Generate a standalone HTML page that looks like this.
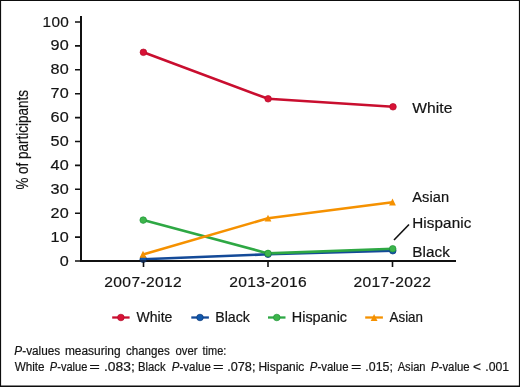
<!DOCTYPE html>
<html>
<head>
<meta charset="utf-8">
<title>Participants by race over time</title>
<style>
html,body{margin:0;padding:0;background:#fff;}
body{width:520px;height:387px;overflow:hidden;}
svg{display:block;}
text{font-family:"Liberation Sans",sans-serif;fill:#141414;stroke:#141414;stroke-width:0.2px;}
</style>
</head>
<body>
<svg width="520" height="387" viewBox="0 0 520 387">
<rect x="0" y="0" width="520" height="387" fill="#fff"/>
<!-- outer frame -->
<path fill="#0d0d0d" fill-rule="evenodd" d="M0,0 H520 V387 H0 Z M1.1,1 V385.55 H518.9 V1 Z"/>

<!-- data series -->
<g fill="none" stroke-width="2.6" stroke-linejoin="round" stroke-linecap="round">
  <polyline stroke="#144a98" points="143.2,259.3 268,254.3 392.8,250.7"/>
  <polyline stroke="#2ea844" points="143.2,220.1 268,253.4 392.7,248.8"/>
  <polyline stroke="#f59100" points="143,254.4 268,218.3 392.5,202.2"/>
  <polyline stroke="#c90e2f" points="143.4,52.3 268.1,98.8 393,106.8"/>
</g>
<circle cx="143.2" cy="259.3" r="3.3" fill="#1058ac" stroke="#0c3a7a" stroke-width="0.7"/>
<circle cx="268" cy="254.3" r="3.3" fill="#1058ac" stroke="#0c3a7a" stroke-width="0.7"/>
<circle cx="392.8" cy="250.7" r="3.3" fill="#1058ac" stroke="#0c3a7a" stroke-width="0.7"/>
<circle cx="143.2" cy="220.1" r="3.3" fill="#3db54b" stroke="#1f9639" stroke-width="0.7"/>
<circle cx="268" cy="253.4" r="3.3" fill="#3db54b" stroke="#1f9639" stroke-width="0.7"/>
<circle cx="392.7" cy="248.8" r="3.3" fill="#3db54b" stroke="#1f9639" stroke-width="0.7"/>
<path fill="#f59100" d="M143,250.8 l3.4,6.9 h-6.8z"/>
<path fill="#f59100" d="M268,214.7 l3.4,6.9 h-6.8z"/>
<path fill="#f59100" d="M392.5,198.6 l3.4,6.9 h-6.8z"/>
<circle cx="143.4" cy="52.3" r="3.3" fill="#d81236" stroke="#b40b2a" stroke-width="0.7"/>
<circle cx="268.1" cy="98.8" r="3.3" fill="#d81236" stroke="#b40b2a" stroke-width="0.7"/>
<circle cx="393" cy="106.8" r="3.3" fill="#d81236" stroke="#b40b2a" stroke-width="0.7"/>
<!-- axes -->
<g stroke="#111" stroke-width="2" fill="none">
  <path d="M81,16 V262"/>
  <path d="M80,261 H456"/>
</g>
<g stroke="#111" stroke-width="1.6" fill="none">
  <path d="M75,22 H81 M75,45.9 H81 M75,69.8 H81 M75,93.7 H81 M75,117.6 H81 M75,141.5 H81 M75,165.4 H81 M75,189.3 H81 M75,213.2 H81 M75,237.1 H81 M75,261 H81"/>
  <path d="M143.5,261 V267 M268,261 V267 M392.5,261 V267"/>
  <path d="M394,240 L409,224.5"/>
</g>
<!-- first Black marker shows faintly through the axis line -->
<clipPath id="axclip"><rect x="138" y="259.9" width="11" height="2.2"/></clipPath>
<circle cx="143.2" cy="259.3" r="3.5" fill="#123f86" opacity="0.55" clip-path="url(#axclip)"/>
<!-- y tick labels -->
<text transform="translate(69.2,26.5) scale(1.05,1)" font-size="14.6" text-anchor="end" letter-spacing="0.35">100</text>
<text transform="translate(69.2,50.4) scale(1.11,1)" font-size="14.6" text-anchor="end" letter-spacing="0.35">90</text>
<text transform="translate(69.2,74.3) scale(1.11,1)" font-size="14.6" text-anchor="end" letter-spacing="0.35">80</text>
<text transform="translate(69.2,98.2) scale(1.11,1)" font-size="14.6" text-anchor="end" letter-spacing="0.35">70</text>
<text transform="translate(69.2,122.1) scale(1.11,1)" font-size="14.6" text-anchor="end" letter-spacing="0.35">60</text>
<text transform="translate(69.2,146.0) scale(1.11,1)" font-size="14.6" text-anchor="end" letter-spacing="0.35">50</text>
<text transform="translate(69.2,169.9) scale(1.11,1)" font-size="14.6" text-anchor="end" letter-spacing="0.35">40</text>
<text transform="translate(69.2,193.8) scale(1.11,1)" font-size="14.6" text-anchor="end" letter-spacing="0.35">30</text>
<text transform="translate(69.2,217.7) scale(1.11,1)" font-size="14.6" text-anchor="end" letter-spacing="0.35">20</text>
<text transform="translate(69.2,241.6) scale(1.11,1)" font-size="14.6" text-anchor="end" letter-spacing="0.35">10</text>
<text transform="translate(69.2,265.5) scale(1.11,1)" font-size="14.6" text-anchor="end" letter-spacing="0.35">0</text>
<!-- y axis title -->
<text transform="translate(27.7,189.6) rotate(-90)" font-size="16" textLength="99.5" lengthAdjust="spacingAndGlyphs" stroke="#141414" stroke-width="0.45">% of participants</text>
<!-- x labels -->
<text transform="translate(143.2,286.6) scale(1.04,1)" font-size="15" text-anchor="middle" letter-spacing="0.35">2007-2012</text>
<text transform="translate(268.1,286.6) scale(1.04,1)" font-size="15" text-anchor="middle" letter-spacing="0.35">2013-2016</text>
<text transform="translate(392.4,286.6) scale(1.04,1)" font-size="15" text-anchor="middle" letter-spacing="0.35">2017-2022</text>
<!-- direct labels -->
<text transform="translate(412.2,113.3) scale(1.065,1)" font-size="14.65" letter-spacing="0.1">White</text>
<text transform="translate(412.2,202.2) scale(1.0,1)" font-size="14.65" letter-spacing="0.1">Asian</text>
<text transform="translate(412.2,227.8) scale(1.04,1)" font-size="14.65" letter-spacing="0.1">Hispanic</text>
<text transform="translate(412.2,257.2) scale(1.045,1)" font-size="14.65" letter-spacing="0.1">Black</text>
<!-- legend -->
<g stroke-width="2.3" fill="none">
  <path stroke="#c90e2f" d="M112.2,317.5 H129.6"/>
  <path stroke="#144a98" d="M191.3,317.5 H208.9"/>
  <path stroke="#2ea844" d="M268,317.5 H285.5"/>
  <path stroke="#f59100" d="M365.2,317.5 H382.9"/>
</g>
<circle cx="120.9" cy="317.5" r="3.3" fill="#d81236" stroke="#b40b2a" stroke-width="0.7"/>
<circle cx="200.0" cy="317.5" r="3.3" fill="#1058ac" stroke="#0c3a7a" stroke-width="0.7"/>
<circle cx="276.8" cy="317.5" r="3.3" fill="#3db54b" stroke="#1f9639" stroke-width="0.7"/>
<path fill="#f59100" d="M374.1,314.0 l3.4,6.9 h-6.8z"/>
<text transform="translate(136.5,321.7) scale(0.99,1)" font-size="14.2">White</text>
<text transform="translate(215.2,321.7) scale(1.0,1)" font-size="14.2">Black</text>
<text transform="translate(291.8,321.7) scale(1.015,1)" font-size="14.2">Hispanic</text>
<text transform="translate(389.6,321.7) scale(0.94,1)" font-size="14.2">Asian</text>
<!-- footnote -->
<text y="354.7" font-size="12"><tspan x="14.34" textLength="7.87" lengthAdjust="spacingAndGlyphs" font-style="italic">P</tspan><tspan textLength="38.02" lengthAdjust="spacingAndGlyphs">-values</tspan> <tspan x="64.91" textLength="55.66" lengthAdjust="spacingAndGlyphs">measuring</tspan> <tspan x="125.96" textLength="43.76" lengthAdjust="spacingAndGlyphs">changes</tspan> <tspan x="175.47" textLength="22.01" lengthAdjust="spacingAndGlyphs">over</tspan> <tspan x="202.53" textLength="23.77" lengthAdjust="spacingAndGlyphs">time:</tspan></text>
<text y="370.5" font-size="12"><tspan x="14.65" textLength="29.92" lengthAdjust="spacingAndGlyphs">White</tspan> <tspan x="49.86" textLength="7.36" lengthAdjust="spacingAndGlyphs" font-style="italic">P</tspan><tspan textLength="30.07" lengthAdjust="spacingAndGlyphs">-value</tspan> <tspan x="89.31" textLength="10.64" lengthAdjust="spacingAndGlyphs">=</tspan> <tspan x="103.93" textLength="30.86" lengthAdjust="spacingAndGlyphs">.083;</tspan> <tspan x="138.03" textLength="27.51" lengthAdjust="spacingAndGlyphs">Black</tspan> <tspan x="171.85" textLength="7.66" lengthAdjust="spacingAndGlyphs" font-style="italic">P</tspan><tspan textLength="31.30" lengthAdjust="spacingAndGlyphs">-value</tspan> <tspan x="213.06" textLength="10.64" lengthAdjust="spacingAndGlyphs">=</tspan> <tspan x="227.29" textLength="28.14" lengthAdjust="spacingAndGlyphs">.078;</tspan> <tspan x="258.47" textLength="45.90" lengthAdjust="spacingAndGlyphs">Hispanic</tspan> <tspan x="309.85" textLength="7.61" lengthAdjust="spacingAndGlyphs" font-style="italic">P</tspan><tspan textLength="31.09" lengthAdjust="spacingAndGlyphs">-value</tspan> <tspan x="351.09" textLength="10.34" lengthAdjust="spacingAndGlyphs">=</tspan> <tspan x="365.32" textLength="27.60" lengthAdjust="spacingAndGlyphs">.015;</tspan> <tspan x="397.68" textLength="27.84" lengthAdjust="spacingAndGlyphs">Asian</tspan> <tspan x="431.10" textLength="7.56" lengthAdjust="spacingAndGlyphs" font-style="italic">P</tspan><tspan textLength="30.89" lengthAdjust="spacingAndGlyphs">-value</tspan> <tspan x="473.03" textLength="7.93" lengthAdjust="spacingAndGlyphs">&lt;</tspan> <tspan x="485.33" textLength="23.81" lengthAdjust="spacingAndGlyphs">.001</tspan></text>
</svg>
</body>
</html>
